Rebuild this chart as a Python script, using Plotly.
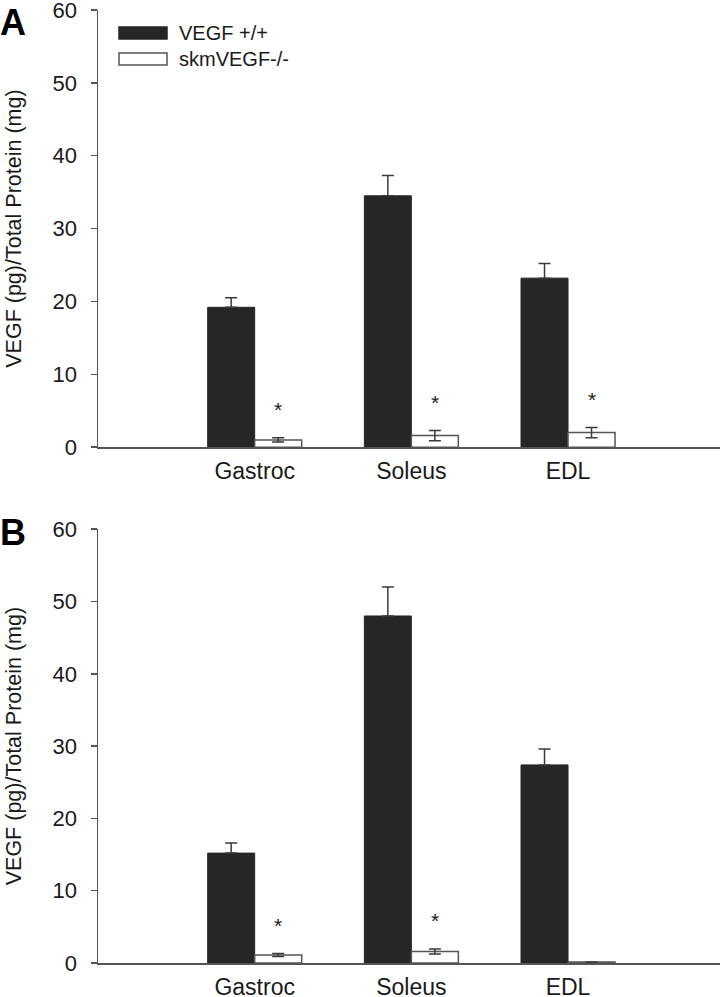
import plotly.graph_objects as go
from plotly.subplots import make_subplots

# ---------------- data ----------------
muscles = ["Gastroc", "Soleus", "EDL"]
series_names = ["VEGF +/+", "skmVEGF-/-"]

a_wt = [19.2, 34.5, 23.2]
a_wt_err = [1.3, 2.8, 2.0]
a_ko = [1.0, 1.6, 2.0]
a_ko_err = [0.3, 0.7, 0.7]
a_sig = [True, True, True]

b_wt = [15.2, 48.0, 27.4]
b_wt_err = [1.4, 4.0, 2.2]
b_ko = [1.1, 1.6, 0.15]
b_ko_err = [0.2, 0.35, 0.0]
b_sig = [True, True, False]

y_ticks = [0, 10, 20, 30, 40, 50, 60]
y_title = "VEGF (pg)/Total Protein (mg)"
panel_labels = ["A", "B"]

# ---------------- layout constants ----------------
FW, FH = 720, 997
L, R, T, B = 98, 0, 10, 34.4
W = FW - L - R
H = FH - T - B


def px(x):
    return (x - L) / W


def py(y):
    return (T + H - y) / H


FONT = "Liberation Sans, Arial, sans-serif"
TXT = "#1a1a1a"
AX = "#555555"
BLACK = "#262626"
STAR_PAD = 3.9

fig = make_subplots(rows=2, cols=1)

panels = [
    (1, a_wt, a_wt_err, a_ko, a_ko_err, a_sig),
    (2, b_wt, b_wt_err, b_ko, b_ko_err, b_sig),
]

for row, wt, wte, ko, koe, sig in panels:
    fig.add_trace(go.Bar(
        x=muscles, y=wt, name=series_names[0], showlegend=False,
        marker=dict(color=BLACK, line=dict(color=BLACK, width=1)),
        error_y=dict(type="data", array=wte, arrayminus=[0] * len(wte),
                     symmetric=False, color="#3a3a3a", thickness=1.5, width=6),
    ), row=row, col=1)
    fig.add_trace(go.Bar(
        x=muscles, y=ko, name=series_names[1], showlegend=False,
        marker=dict(color="white", line=dict(color=AX, width=1.5)),
        error_y=dict(type="data", array=koe, color="#3a3a3a",
                     thickness=1.5, width=6),
    ), row=row, col=1)
    xa = "x" if row == 1 else "x2"
    ya = "y" if row == 1 else "y2"
    for i, (m, s) in enumerate(zip(ko, sig)):
        if s:
            fig.add_annotation(
                x=i + 0.15, y=m + koe[i] + STAR_PAD, xref=xa, yref=ya,
                text="*", showarrow=False, yanchor="middle",
                font=dict(family=FONT, size=21, color=TXT),
            )

fig.update_layout(
    width=FW, height=FH,
    margin=dict(l=L, r=R, t=T, b=B, autoexpand=False),
    paper_bgcolor="white", plot_bgcolor="white",
    barmode="group", bargap=0.4, bargroupgap=0,
    font=dict(family=FONT, size=22, color=TXT),
    showlegend=False,
)

doms = [[py(447), 1.0], [0.0, py(529)]]
for row in (1, 2):
    fig.update_xaxes(
        row=row, col=1, range=[-1, 2.97], showline=True, linecolor=AX,
        linewidth=1.5, ticks="", showgrid=False, zeroline=False,
        automargin=False, ticklabeloverflow="allow",
        tickfont=dict(family=FONT, size=23, color=TXT), ticklabelstandoff=3,
    )
    fig.update_yaxes(
        row=row, col=1, range=[0, 60], domain=doms[row - 1], tickvals=y_ticks,
        showline=True, linecolor=AX, linewidth=1.5, ticks="outside",
        ticklen=6, tickcolor=AX, tickwidth=1.5, showgrid=False, zeroline=False,
        automargin=False, ticklabeloverflow="allow",
        tickfont=dict(family=FONT, size=22, color=TXT), ticklabelstandoff=9,
        title=dict(text=y_title, font=dict(family=FONT, size=21.5, color=TXT),
                   standoff=25),
    )

# panel letters
for lab, ytop in zip(panel_labels, [0, 510]):
    fig.add_annotation(
        x=px(-2), y=py(ytop), xref="paper", yref="paper", text="<b>%s</b>" % lab,
        showarrow=False, xanchor="left", yanchor="top",
        font=dict(family=FONT, size=36, color="black"),
    )

# legend (custom, panel A)
sw = [(27, 39, BLACK, BLACK), (53, 65, "white", AX)]
for (y0, y1, fc, lc), name in zip(sw, series_names):
    fig.add_shape(type="rect", xref="paper", yref="paper",
                  x0=px(119), x1=px(167), y0=py(y1), y1=py(y0),
                  fillcolor=fc, line=dict(color=lc, width=1.5))
    fig.add_annotation(
        x=px(177), y=py((y0 + y1) / 2), xref="paper", yref="paper", text=name,
        showarrow=False, xanchor="left", yanchor="middle",
        font=dict(family=FONT, size=20, color=TXT),
    )

fig.write_html(
    "out.html",
    config={"displayModeBar": False, "staticPlot": True},
    post_script="document.body.style.margin='0';document.body.style.padding='0';",
)
